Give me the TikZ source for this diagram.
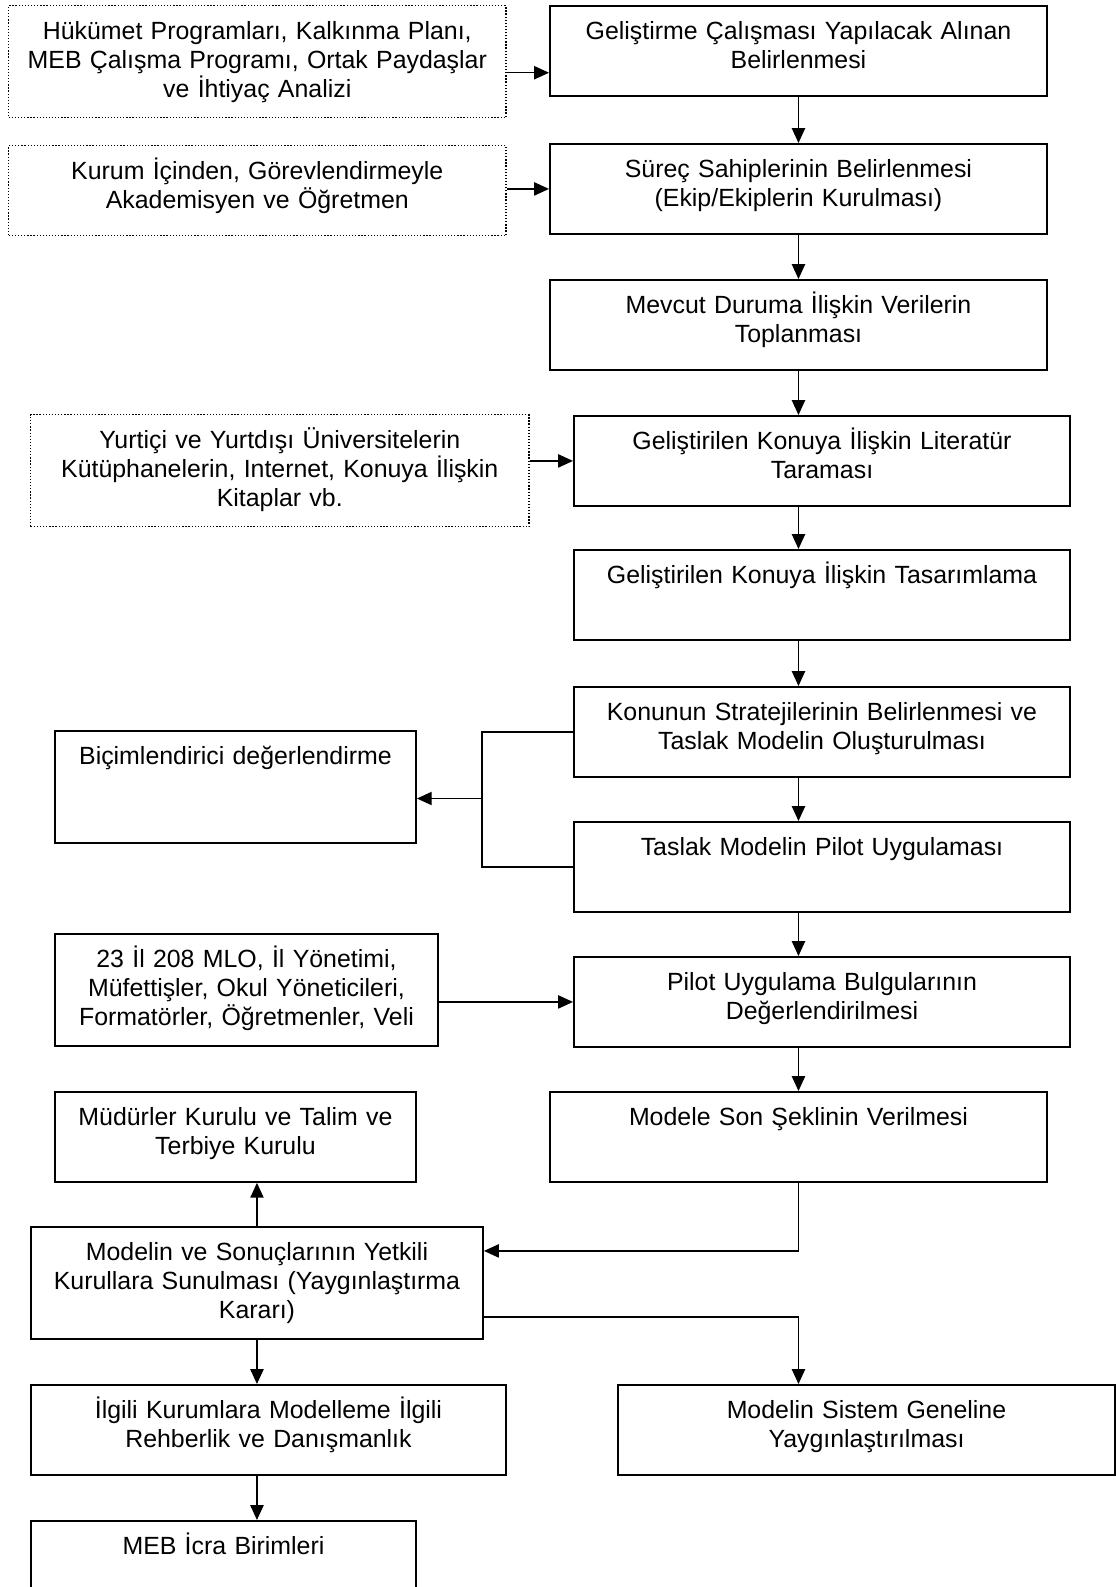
\documentclass[tikz,border=0pt]{standalone}
\usepackage{fontspec}
\setmainfont{Liberation Sans}
\usetikzlibrary{arrows.meta}
\tikzset{
  stage/.style={draw, line width=1.3pt, anchor=north west, align=center, inner sep=0pt,
    font=\fontsize{17.7}{20.5}\selectfont, text height=0.85cm, text depth=1.4cm},
  source/.style={stage, line width=1pt, dash pattern=on 0.9pt off 1.3pt},
  tall/.style={text depth=1.95cm},
  flow/.style={line width=1pt, -{Triangle[length=0.37cm, width=0.33cm]}}
}

\begin{document}
\begin{tikzpicture}[x=0.025cm, y=-0.025cm]
  \useasboundingbox (0,0) rectangle (1116,1587);
  \clip (0,0) rectangle (1116,1587);
  % inputs (dotted)
  \node[source, tall, text width=12.425cm] (hukumet) at (8,5)
    {Hükümet Programları, Kalkınma Planı,\\ MEB Çalışma Programı, Ortak Paydaşlar\\ ve İhtiyaç Analizi};
  \node[source, text width=12.425cm] (kurum) at (8,145)
    {Kurum İçinden, Görevlendirmeyle\\ Akademisyen ve Öğretmen};
  \node[source, tall, text width=12.45cm] (yurtici) at (30,414)
    {Yurtiçi ve Yurtdışı Üniversitelerin\\ Kütüphanelerin, Internet, Konuya İlişkin\\ Kitaplar vb.};
  % main column
  \node[stage, text width=12.425cm] (alan) at (549,5)
    {Geliştirme Çalışması Yapılacak Alınan\\ Belirlenmesi};
  \node[stage, text width=12.425cm] (surec) at (549,143)
    {Süreç Sahiplerinin Belirlenmesi\\ (Ekip/Ekiplerin Kurulması)};
  \node[stage, text width=12.425cm] (mevcut) at (549,279)
    {Mevcut Duruma İlişkin Verilerin\\ Toplanması};
  \node[stage, text width=12.4cm] (literatur) at (573,415)
    {Geliştirilen Konuya İlişkin Literatür\\ Taraması};
  \node[stage, text width=12.4cm] (tasarim) at (573,549)
    {Geliştirilen Konuya İlişkin Tasarımlama};
  \node[stage, text width=12.4cm] (strateji) at (573,686)
    {Konunun Stratejilerinin Belirlenmesi ve\\ Taslak Modelin Oluşturulması};
  \node[stage, text width=12.4cm] (pilot) at (573,821)
    {Taslak Modelin Pilot Uygulaması};
  \node[stage, text width=12.4cm] (bulgu) at (573,956)
    {Pilot Uygulama Bulgularının\\ Değerlendirilmesi};
  \node[stage, text width=12.425cm] (sonsekil) at (549,1091)
    {Modele Son Şeklinin Verilmesi};
  % left side
  \node[stage, tall, text width=9.025cm] (bicim) at (54,730)
    {Biçimlendirici değerlendirme};
  \node[stage, tall, text width=9.575cm] (katilim) at (54,933)
    {23 İl 208 MLO, İl Yönetimi,\\ Müfettişler, Okul Yöneticileri,\\ Formatörler, Öğretmenler, Veli};
  \node[stage, text width=9.025cm] (kurul) at (54,1091)
    {Müdürler Kurulu ve Talim ve\\ Terbiye Kurulu};
  \node[stage, tall, text width=11.3cm] (sunum) at (30,1226)
    {Modelin ve Sonuçlarının Yetkili\\ Kurullara Sunulması (Yaygınlaştırma\\ Kararı)};
  \node[stage, text width=11.875cm] (rehber) at (30,1384)
    {İlgili Kurumlara Modelleme İlgili\\ Rehberlik ve Danışmanlık};
  \node[stage, text width=12.425cm] (sistem) at (617,1384)
    {Modelin Sistem Geneline\\ Yaygınlaştırılması};
  \node[stage, text width=9.625cm] (icra) at (30,1520)
    {MEB İcra Birimleri};
  % inputs into the column
  \draw[flow] ([yshift=-0.275cm]hukumet.east) -- ([yshift=-0.275cm]hukumet.east -| alan.west);
  \draw[flow] (kurum.east |- surec.west) -- (surec.west);
  \draw[flow] (yurtici.east |- literatur.west) -- (literatur.west);
  \draw[flow] (katilim.east |- bulgu.west) -- (bulgu.west);
  % column
  \draw[flow] (alan.south) -- (surec.north);
  \draw[flow] (surec.south) -- (mevcut.north);
  \draw[flow] (mevcut.south) -- (mevcut.south |- literatur.north);
  \draw[flow] (literatur.south -| alan.south) -- (tasarim.north -| alan.south);
  \draw[flow] (tasarim.south -| alan.south) -- (strateji.north -| alan.south);
  \draw[flow] (strateji.south -| alan.south) -- (pilot.north -| alan.south);
  \draw[flow] (pilot.south -| alan.south) -- (bulgu.north -| alan.south);
  \draw[flow] (bulgu.south -| alan.south) -- (sonsekil.north);
  % formative evaluation bracket
  \coordinate (kol) at (482,798.5);
  \draw[line width=1pt] (strateji.west) -| (kol) |- (pilot.west);
  \draw[flow] (kol) -- (kol -| bicim.east);
  % decision and dissemination
  \draw[flow] (sonsekil.south) |- ([yshift=0.8cm]sunum.east);
  \draw[flow] ([yshift=-0.85cm]sunum.east) -| (sonsekil.south |- sistem.north);
  \draw[flow] (sunum.north) -- (sunum.north |- kurul.south);
  \draw[flow] (sunum.south) -- (sunum.south |- rehber.north);
  \draw[flow] (rehber.south -| sunum.south) -- (sunum.south |- icra.north);
\end{tikzpicture}
\end{document}
